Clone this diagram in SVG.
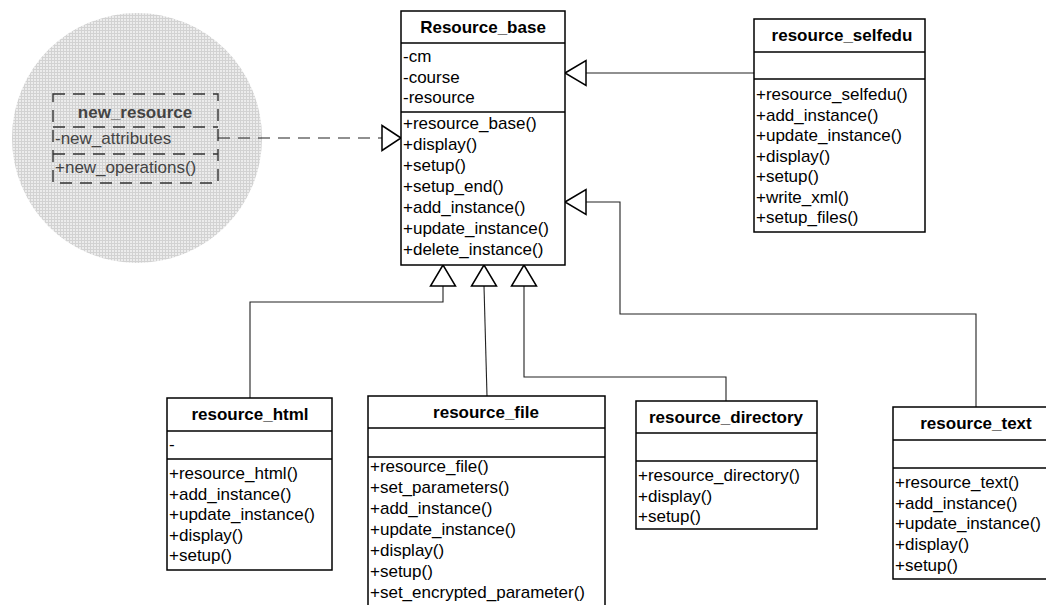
<svg xmlns="http://www.w3.org/2000/svg" width="1046" height="605" viewBox="0 0 1046 605">
<style>
text{font-family:"Liberation Sans",Arial,sans-serif;font-size:17px;fill:#000}
.h{font-weight:bold;text-anchor:middle}
.box{fill:#fff;stroke:#000;stroke-width:1.5}
.div{stroke:#000;stroke-width:1.5}
.c{fill:none;stroke:#222;stroke-width:1.1}
.tri{fill:#fff;stroke:#000;stroke-width:1.5}
.dash{fill:none;stroke:#333;stroke-width:1.4;stroke-dasharray:12 8}
.g text{fill:#444}
</style>
<defs>
<pattern id="grid" width="3" height="3" patternUnits="userSpaceOnUse">
<rect width="3" height="3" fill="#ececec"/>
<path d="M0 0.5H3M0.5 0V3" stroke="#d2d2d2" stroke-width="1"/>
</pattern>
</defs>

<g id="new_resource" class="g">
<circle cx="137" cy="138" r="125" fill="url(#grid)"/>
<rect x="53" y="94" width="165" height="89" class="dash"/>
<line x1="53" y1="127" x2="218" y2="127" class="dash"/>
<line x1="53" y1="154" x2="218" y2="154" class="dash"/>
<text x="135" y="118" class="h">new_resource</text>
<text x="55" y="144">-new_attributes</text>
<text x="55" y="173">+new_operations()</text>
</g>

<g id="connectors">
<line x1="218" y1="138" x2="382" y2="138" class="c" stroke-dasharray="12 8"/>
<polygon points="401,138 382,125.5 382,150.5" class="tri"/>
<line x1="754" y1="73" x2="586" y2="73" class="c"/>
<polygon points="565,73 586,60.5 586,85.5" class="tri"/>
<path d="M976,408V314H620V202H586" class="c"/>
<polygon points="565,202 586,189.5 586,214.5" class="tri"/>
<path d="M250,398V302H443V286" class="c"/>
<polygon points="443,265 430.5,286 455.5,286" class="tri"/>
<path d="M487,396L484,286" class="c"/>
<polygon points="484,265 471.5,286 496.5,286" class="tri"/>
<path d="M726,401V377H524V286" class="c"/>
<polygon points="524,265 511.5,286 536.5,286" class="tri"/>
</g>

<g id="Resource_base">
<rect x="401" y="11" width="164" height="254" class="box"/>
<line x1="401" y1="43" x2="565" y2="43" class="div"/>
<line x1="401" y1="112" x2="565" y2="112" class="div"/>
<text x="483" y="33" class="h">Resource_base</text>
<text x="403" y="62">-cm</text>
<text x="403" y="83">-course</text>
<text x="403" y="103">-resource</text>
<text x="403" y="129">+resource_base()</text>
<text x="403" y="150">+display()</text>
<text x="403" y="171">+setup()</text>
<text x="403" y="192">+setup_end()</text>
<text x="403" y="213">+add_instance()</text>
<text x="403" y="234">+update_instance()</text>
<text x="403" y="255">+delete_instance()</text>
</g>

<g id="resource_selfedu">
<rect x="754" y="19" width="171" height="213" class="box"/>
<line x1="754" y1="52" x2="925" y2="52" class="div"/>
<line x1="754" y1="79" x2="925" y2="79" class="div"/>
<text x="842" y="41" class="h">resource_selfedu</text>
<text x="756" y="100">+resource_selfedu()</text>
<text x="756" y="120.5">+add_instance()</text>
<text x="756" y="141">+update_instance()</text>
<text x="756" y="161.5">+display()</text>
<text x="756" y="182">+setup()</text>
<text x="756" y="202.5">+write_xml()</text>
<text x="756" y="223">+setup_files()</text>
</g>

<g id="resource_html">
<rect x="167" y="398" width="165" height="172" class="box"/>
<line x1="167" y1="431" x2="332" y2="431" class="div"/>
<line x1="167" y1="459" x2="332" y2="459" class="div"/>
<text x="250" y="420" class="h">resource_html</text>
<text x="169" y="450">-</text>
<text x="169" y="479">+resource_html()</text>
<text x="169" y="499.5">+add_instance()</text>
<text x="169" y="520">+update_instance()</text>
<text x="169" y="540.5">+display()</text>
<text x="169" y="561">+setup()</text>
</g>

<g id="resource_file">
<rect x="368" y="396" width="237" height="215" class="box"/>
<line x1="368" y1="428" x2="605" y2="428" class="div"/>
<line x1="368" y1="457" x2="605" y2="457" class="div"/>
<text x="486" y="418" class="h">resource_file</text>
<text x="370" y="472">+resource_file()</text>
<text x="370" y="493">+set_parameters()</text>
<text x="370" y="514">+add_instance()</text>
<text x="370" y="535">+update_instance()</text>
<text x="370" y="556">+display()</text>
<text x="370" y="577">+setup()</text>
<text x="370" y="598">+set_encrypted_parameter()</text>
</g>

<g id="resource_directory">
<rect x="636" y="401" width="181" height="128" class="box"/>
<line x1="636" y1="433" x2="817" y2="433" class="div"/>
<line x1="636" y1="461" x2="817" y2="461" class="div"/>
<text x="726" y="423" class="h">resource_directory</text>
<text x="638" y="481">+resource_directory()</text>
<text x="638" y="502">+display()</text>
<text x="638" y="522">+setup()</text>
</g>

<g id="resource_text">
<rect x="893" y="407" width="160" height="172" class="box"/>
<line x1="893" y1="440" x2="1046" y2="440" class="div"/>
<line x1="893" y1="468" x2="1046" y2="468" class="div"/>
<text x="976" y="429" class="h">resource_text</text>
<text x="895" y="488">+resource_text()</text>
<text x="895" y="509">+add_instance()</text>
<text x="895" y="529">+update_instance()</text>
<text x="895" y="550">+display()</text>
<text x="895" y="571">+setup()</text>
</g>
</svg>
